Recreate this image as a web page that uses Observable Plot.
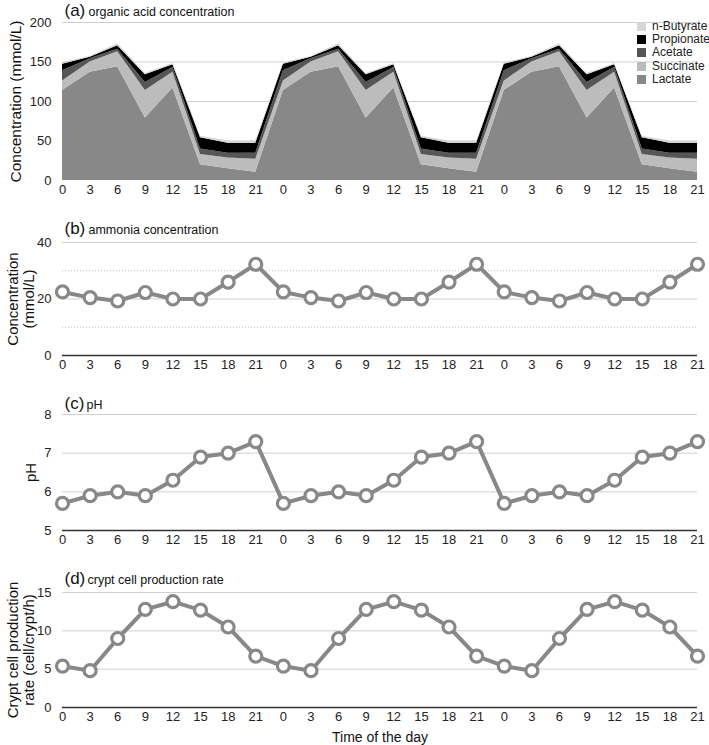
<!DOCTYPE html>
<html>
<head>
<meta charset="utf-8">
<script src="https://cdn.jsdelivr.net/npm/d3@7"></script>
<script src="https://cdn.jsdelivr.net/npm/@observablehq/plot@0.6"></script>
<style>
  body { margin: 0; background: #fff; font-family: "Liberation Sans", Arial, sans-serif; }
  #wrap { position: relative; width: 709px; height: 745px; }
  #wrap svg { display: block; }
  #legend { position: absolute; left: 637px; top: 20px; font-size: 12px; color: #222; line-height: 13.2px; }
  #legend .row { display: flex; align-items: center; height: 13.2px; }
  #legend .sw { width: 9px; height: 9px; margin-right: 6px; }
</style>
</head>
<body>
<div id="wrap"></div>
<script>
// ---- data ----
const xLabels = ["0","3","6","9","12","15","18","21","0","3","6","9","12","15","18","21","0","3","6","9","12","15","18","21"];
const seriesNames = ["Lactate","Succinate","Acetate","Propionate","n-Butyrate"]; // bottom to top
const seriesColors = ["#888888","#bcbcbc","#565656","#000000","#d6d6d6"];
const lactate    = [114,137,144,79,117,20,15,10.5, 114,137,144,79,117,20,15,10.5, 114,137,144,79,117,20,15,10.5];
const succinate  = [12,13,19,35,20,13,13.5,16.5, 12,13,19,35,20,13,13.5,16.5, 12,13,19,35,20,13,13.5,16.5];
const acetate    = [13,4,3,10,6,7,6,7.5, 13,4,3,10,6,7,6,7.5, 13,4,3,10,6,7,6,7.5];
const propionate = [8,2,4.5,10,3.5,14,12.5,12.5, 8,2,4.5,10,3.5,14,12.5,12.5, 8,2,4.5,10,3.5,14,12.5,12.5];
const butyrate   = [2,1,2.5,1.5,1.5,2,3,3, 2,1,2.5,1.5,1.5,2,3,3, 2,1,2.5,1.5,1.5,2,3,3];
const ammonia = [22.5,20.5,19.3,22.3,20,20,26,32.3, 22.5,20.5,19.3,22.3,20,20,26,32.3, 22.5,20.5,19.3,22.3,20,20,26,32.3];
const pH      = [5.7,5.9,6.0,5.9,6.3,6.9,7.0,7.3, 5.7,5.9,6.0,5.9,6.3,6.9,7.0,7.3, 5.7,5.9,6.0,5.9,6.3,6.9,7.0,7.3];
const crypt   = [5.4,4.8,9.0,12.8,13.8,12.7,10.5,6.7, 5.4,4.8,9.0,12.8,13.8,12.7,10.5,6.7, 5.4,4.8,9.0,12.8,13.8,12.7,10.5,6.7];
const yTicksA = [0,50,100,150,200];
const yTicksB = [0,20,40];
const yMinorB = [10,30];
const yTicksC = [5,6,7,8];
const yTicksD = [0,5,10,15];

const idx = xLabels.map((_, i) => i);
const W = 709, ML = 62, MR = 12;
const font = "Liberation Sans, Arial, sans-serif";
const wrap = document.getElementById("wrap");

function xAxis() {
  return Plot.axisX({ticks: idx, tickFormat: i => xLabels[i], tickSize: 0, tickPadding: 4, fontSize: 13, fill: "#222", label: null});
}
function yAxis(ticks) {
  return Plot.axisY({ticks, tickFormat: d => String(d), tickSize: 0, tickPadding: 11, fontSize: 13, fill: "#222", label: null});
}
function title(letter, text, dy, dx2) {
  return [
    Plot.text([letter], {text: d => d, frameAnchor: "top-left", dx: 2, dy, fontSize: 17, textAnchor: "start", lineAnchor: "middle", fill: "#111"}),
    Plot.text([text], {text: d => d, frameAnchor: "top-left", dx: dx2, dy: dy + 1, fontSize: 12.5, textAnchor: "start", lineAnchor: "middle", fill: "#111"})
  ];
}
function yLabel(text, dx, size = 15) {
  return Plot.text([text], {text: d => d, frameAnchor: "left", dx, rotate: -90, fontSize: size, textAnchor: "middle", lineAnchor: "middle", fill: "#111", lineHeight: 1.1});
}
function lineMarks(vals) {
  const data = vals.map((v, i) => ({i, v}));
  return [
    Plot.line(data, {x: "i", y: "v", stroke: "#888", strokeWidth: 4}),
    Plot.dot(data, {x: "i", y: "v", r: 6, fill: "#fff", stroke: "#888", strokeWidth: 3.2})
  ];
}

// ---- (a) ----
const seriesValues = [lactate, succinate, acetate, propionate, butyrate];
const tidy = seriesNames.flatMap((s, k) => seriesValues[k].map((v, i) => ({i, v, s})));
const pa = Plot.plot({
  width: W, height: 200, marginLeft: ML, marginRight: MR, marginTop: 22, marginBottom: 20,
  style: {fontFamily: font, background: "#fff"},
  x: {domain: [0, 23]},
  y: {domain: [0, 200]},
  color: {domain: seriesNames, range: seriesColors},
  marks: [
    Plot.ruleY(yTicksA.slice(1), {stroke: "#cfcfcf", strokeWidth: 1}),
    Plot.areaY(tidy, {x: "i", y: "v", fill: "s", z: "s", order: seriesNames}),
    xAxis(), yAxis(yTicksA),
    ...title("(a)", "organic acid concentration", -12, 26),
    yLabel("Concentration (mmol/L)", -47, 15.5)
  ]
});
wrap.appendChild(pa);

// ---- (b) ----
const pb = Plot.plot({
  width: W, height: 175, marginLeft: ML, marginRight: MR, marginTop: 42, marginBottom: 20,
  style: {fontFamily: font, background: "#fff"},
  x: {domain: [0, 23]},
  y: {domain: [0, 40]},
  marks: [
    Plot.ruleY(yMinorB, {stroke: "#bdbdbd", strokeWidth: 1, strokeDasharray: "1,2"}),
    Plot.ruleY([20, 40], {stroke: "#cfcfcf", strokeWidth: 1}),
    Plot.ruleY([0], {stroke: "#333", strokeWidth: 1.6}),
    ...lineMarks(ammonia),
    xAxis(), yAxis(yTicksB),
    ...title("(b)", "ammonia concentration", -14, 26),
    yLabel("Concentration\n(mmol/L)", -42)
  ]
});
wrap.appendChild(pb);

// ---- (c) ----
const pc = Plot.plot({
  width: W, height: 175, marginLeft: ML, marginRight: MR, marginTop: 39, marginBottom: 20,
  style: {fontFamily: font, background: "#fff"},
  x: {domain: [0, 23]},
  y: {domain: [5, 8]},
  marks: [
    Plot.ruleY([6, 7, 8], {stroke: "#cfcfcf", strokeWidth: 1}),
    Plot.ruleY([5], {stroke: "#333", strokeWidth: 1.6}),
    ...lineMarks(pH),
    xAxis(), yAxis(yTicksC),
    ...title("(c)", "pH", -11, 24),
    yLabel("pH", -32)
  ]
});
wrap.appendChild(pc);

// ---- (d) ----
const pd = Plot.plot({
  width: W, height: 195, marginLeft: ML, marginRight: MR, marginTop: 42, marginBottom: 38,
  style: {fontFamily: font, background: "#fff"},
  x: {domain: [0, 23]},
  y: {domain: [0, 15]},
  marks: [
    Plot.ruleY([5, 10, 15], {stroke: "#cfcfcf", strokeWidth: 1}),
    Plot.ruleY([0], {stroke: "#333", strokeWidth: 1.6}),
    ...lineMarks(crypt),
    xAxis(), yAxis(yTicksD),
    ...title("(d)", "crypt cell production rate", -14, 25),
    yLabel("Crypt cell production\nrate (cell/crypt/h)", -42),
    Plot.text(["Time of the day"], {text: d => d, frameAnchor: "bottom", dy: 30, fontSize: 14, fill: "#111", lineAnchor: "middle"})
  ]
});
wrap.appendChild(pd);

// ---- legend (top to bottom) ----
const legend = document.createElement("div");
legend.id = "legend";
for (let k = seriesNames.length - 1; k >= 0; k--) {
  const row = document.createElement("div");
  row.className = "row";
  row.innerHTML = `<div class="sw" style="background:${seriesColors[k]}"></div><span>${seriesNames[k]}</span>`;
  legend.appendChild(row);
}
wrap.appendChild(legend);
</script>
</body>
</html>
